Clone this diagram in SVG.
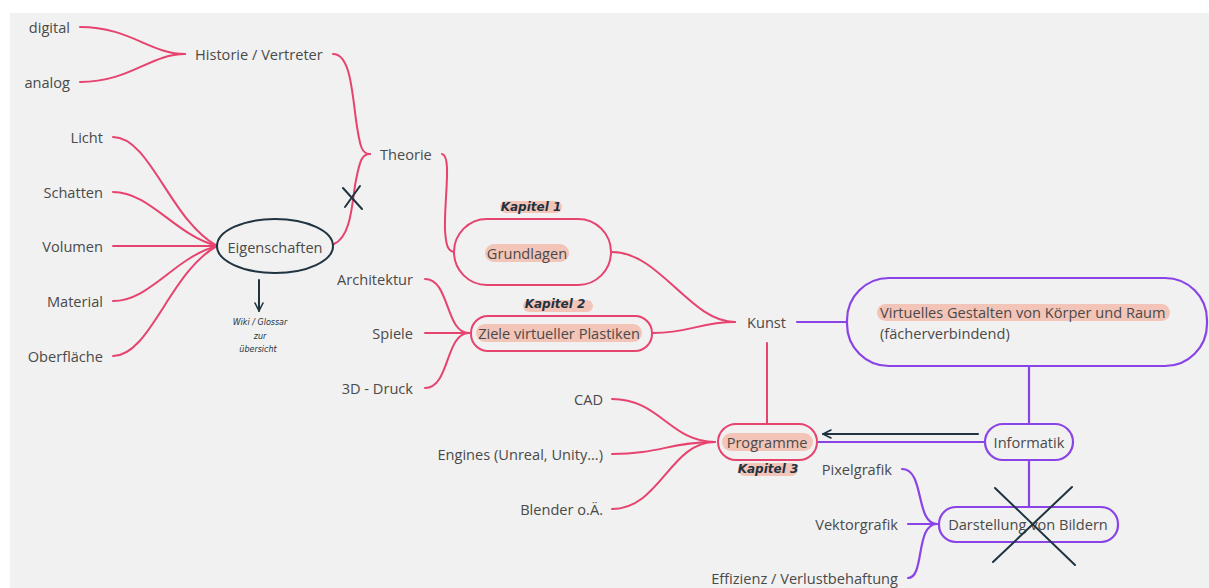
<svg xmlns="http://www.w3.org/2000/svg" width="1209" height="588" viewBox="0 0 1209 588">
<defs>
<style>
.t{font-family:"Open Sans","Liberation Sans",sans-serif;font-size:14.6px;fill:#4a4a4a;dominant-baseline:central}
.r{text-anchor:end}
.m{text-anchor:middle}
.p{fill:none;stroke:#e6436f;stroke-width:2;stroke-linecap:round}
.v{fill:none;stroke:#8a43e6;stroke-width:2.2;stroke-linecap:round}
.d{fill:none;stroke:#1f3340;stroke-width:2;stroke-linecap:round}
.hl{fill:#f3c4b8}
.hw{font-family:"DejaVu Sans",sans-serif;font-style:italic;font-weight:bold;font-size:12px;fill:#1f3340;text-anchor:middle;dominant-baseline:central}
.hs{font-family:"DejaVu Sans",sans-serif;font-style:italic;font-size:8px;fill:#1f3340;text-anchor:middle;dominant-baseline:central}
</style>
<marker id="ah" viewBox="0 0 10 10" refX="9" refY="5" markerWidth="5" markerHeight="5" orient="auto">
<path d="M1,1 L9,5 L1,9" fill="none" stroke="#1f3340" stroke-width="1.6" stroke-linecap="round" stroke-linejoin="round"/>
</marker>
</defs>
<rect x="0" y="0" width="1209" height="588" fill="#ffffff"/>
<rect x="10" y="13" width="1199" height="575" fill="#f1f1f1"/>

<g id="connectors">
<path class="p" d="M80,27 C130,27 150,54 185,54"/>
<path class="p" d="M80,82 C130,82 150,54 185,54"/>
<path class="p" d="M333,54 C350,54 352,90 356,120 C360,148 362,154 370,154"/>
<path class="p" d="M334,244 C352,236 352,200 356,180 C360,160 362,154 370,154"/>
<path class="p" d="M113,137 C150,137 170,220 217,246"/>
<path class="p" d="M113,192 C150,192 175,235 217,246"/>
<path class="p" d="M113,246 L217,246"/>
<path class="p" d="M113,301 C150,301 175,257 217,246"/>
<path class="p" d="M113,356 C150,356 170,272 217,246"/>
<path class="p" d="M442,154 C452,156 444,200 445,230 C446,246 448,251 454,252"/>
<path class="p" d="M612,252 C660,252 690,322 735,322"/>
<path class="p" d="M653,333 C690,333 700,322 735,322"/>
<path class="p" d="M425,279 C450,279 445,333 469,333"/>
<path class="p" d="M425,333 L469,333"/>
<path class="p" d="M425,388 C450,388 445,333 469,333"/>
<path class="p" d="M767,343 L767,424"/>
<path class="p" d="M612,399 C660,399 670,442 715,442"/>
<path class="p" d="M612,454 C660,454 670,442 715,442"/>
<path class="p" d="M612,509 C660,509 670,442 715,442"/>
<path class="v" d="M797,322 L847,322"/>
<path class="v" d="M1029,366 L1029,424"/>
<path class="v" d="M985,442 L818,442"/>
<path class="v" d="M1029,460 L1029,507"/>
<path class="v" d="M902,469 C925,469 915,524 937,524"/>
<path class="v" d="M908,524 L937,524"/>
<path class="v" d="M908,578 C925,578 915,524 937,524"/>
<path class="d" d="M978,434 L823,434" marker-end="url(#ah)"/>
<path class="d" d="M259,280 L259,311" marker-end="url(#ah)"/>
</g>

<g id="digital"><text class="t r" x="70" y="27">digital</text></g>
<g id="analog"><text class="t r" x="70" y="82">analog</text></g>
<g id="historie"><text class="t" x="195" y="54">Historie / Vertreter</text></g>
<g id="theorie"><text class="t" x="380" y="154">Theorie</text></g>
<g id="licht"><text class="t r" x="103" y="137">Licht</text></g>
<g id="schatten"><text class="t r" x="103" y="192">Schatten</text></g>
<g id="volumen"><text class="t r" x="103" y="246">Volumen</text></g>
<g id="material"><text class="t r" x="103" y="301">Material</text></g>
<g id="oberflaeche"><text class="t r" x="103" y="356">Oberfläche</text></g>

<g id="eigenschaften">
<ellipse cx="275" cy="246" rx="58" ry="27" fill="none" stroke="#1f3340" stroke-width="2"/>
<text class="t m" x="275" y="247">Eigenschaften</text>
</g>
<g id="xmark1">
<path class="d" d="M343,188 L362,209 M360,186 L345,207" stroke-width="1.6"/>
</g>
<g id="wiki">
<text class="hs" x="260" y="322">Wiki / Glossar</text>
<text class="hs" x="260" y="336">zur</text>
<text class="hs" x="258" y="349">übersicht</text>
</g>

<g id="grundlagen">
<rect x="454" y="219" width="157" height="66" rx="33" fill="none" stroke="#e6436f" stroke-width="2"/>
<rect class="hl" x="485" y="244" width="84" height="18" rx="9"/>
<text class="t m" x="527" y="253">Grundlagen</text>
<rect class="hl" x="500" y="201" width="62" height="12" rx="6"/>
<text class="hw" x="531" y="207">Kapitel 1</text>
</g>

<g id="ziele">
<rect x="471" y="316" width="181" height="35" rx="17" fill="none" stroke="#e6436f" stroke-width="2"/>
<rect class="hl" x="476" y="324" width="166" height="18" rx="9"/>
<text class="t m" x="559" y="333">Ziele virtueller Plastiken</text>
<rect class="hl" x="523" y="300" width="70" height="12" rx="6"/>
<text class="hw" x="555" y="304">Kapitel 2</text>
</g>

<g id="architektur"><text class="t r" x="413" y="279">Architektur</text></g>
<g id="spiele"><text class="t r" x="413" y="333">Spiele</text></g>
<g id="druck"><text class="t r" x="413" y="388">3D - Druck</text></g>

<g id="kunst"><text class="t" x="747" y="322">Kunst</text></g>

<g id="virtuelles">
<rect x="847" y="278" width="360" height="88" rx="42" fill="none" stroke="#8a43e6" stroke-width="2.2"/>
<rect class="hl" x="877" y="304" width="293" height="17" rx="8.5"/>
<text class="t" x="880" y="312">Virtuelles Gestalten von Körper und Raum</text>
<text class="t" x="880" y="333">(fächerverbindend)</text>
</g>

<g id="informatik">
<rect x="985" y="424" width="88" height="36" rx="18" fill="none" stroke="#8a43e6" stroke-width="2.2"/>
<text class="t m" x="1029" y="442">Informatik</text>
</g>

<g id="programme">
<rect x="718" y="424" width="99" height="36" rx="18" fill="none" stroke="#e6436f" stroke-width="2"/>
<rect class="hl" x="722" y="433" width="91" height="18" rx="9"/>
<text class="t m" x="767" y="442">Programme</text>
<rect class="hl" x="738" y="463" width="60" height="13" rx="6.5"/>
<text class="hw" x="768" y="469">Kapitel 3</text>
</g>

<g id="cad"><text class="t r" x="603" y="399">CAD</text></g>
<g id="engines"><text class="t r" x="603" y="454">Engines (Unreal, Unity...)</text></g>
<g id="blender"><text class="t r" x="603" y="509">Blender o.Ä.</text></g>

<g id="pixelgrafik"><text class="t r" x="892" y="469">Pixelgrafik</text></g>
<g id="vektorgrafik"><text class="t r" x="898" y="524">Vektorgrafik</text></g>
<g id="effizienz"><text class="t r" x="898" y="578">Effizienz / Verlustbehaftung</text></g>

<g id="darstellung">
<rect x="939" y="507" width="179" height="35" rx="17" fill="none" stroke="#8a43e6" stroke-width="2.2"/>
<text class="t m" x="1028" y="524">Darstellung von Bildern</text>
</g>
<g id="xmark2">
<path class="d" d="M995,488 L1075,565 M1072,487 L993,562"/>
</g>
</svg>
